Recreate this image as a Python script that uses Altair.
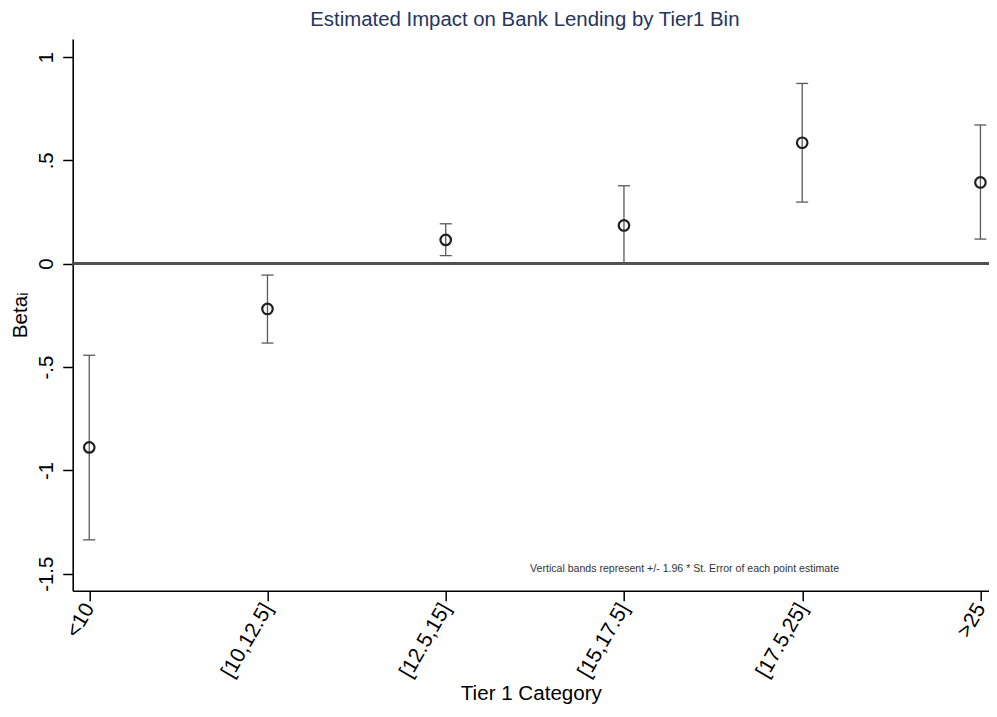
import altair as alt
import pandas as pd

categories = ["<10", "[10,12.5]", "[12.5,15]", "[15,17.5]", "[17.5,25]", ">25"]
beta = [-0.889, -0.219, 0.115, 0.185, 0.585, 0.393]
lower = [-1.336, -0.384, 0.039, -0.003, 0.298, 0.119]
upper = [-0.443, -0.055, 0.193, 0.377, 0.872, 0.671]
y_ticks = [-1.5, -1, -0.5, 0, 0.5, 1]
y_tick_labels = ["-1.5", "-1", "-.5", "0", ".5", "1"]
note_text = ["Vertical bands represent +/- 1.96 * St. Error of each point estimate"]
note_x = [3.34]
note_y = [-1.478]

FONT = "Liberation Sans"

df = pd.DataFrame({"idx": list(range(len(categories))), "cat": categories,
                   "beta": beta, "lo": lower, "hi": upper})
note_df = pd.DataFrame({"t": note_text, "x": note_x, "y": note_y})

cat_expr = "[" + ",".join("'" + c + "'" for c in categories) + "][datum.value]"
ylab_expr = ("[" + ",".join("'" + s + "'" for s in y_tick_labels) + "][indexof(["
             + ",".join(str(v) for v in y_ticks) + "], datum.value)]")

xscale = alt.Scale(domain=[-0.0928, 5.048], nice=False, zero=False)
yscale = alt.Scale(domain=[-1.582, 1.087], nice=False, zero=False)

xaxis = alt.Axis(values=list(range(len(categories))), labelExpr=cat_expr,
                 title="Tier 1 Category", labelAngle=300, labelAlign="right",
                 labelBaseline="middle", labelPadding=4, titlePadding=3,
                 labelFontSize=21)
yaxis = alt.Axis(values=y_ticks, labelExpr=ylab_expr, title="Betaᵢ",
                 labelAngle=270, labelAlign="center", labelBaseline="alphabetic",
                 labelPadding=10, titlePadding=6)

base = alt.Chart(df)

zero = alt.Chart(df).mark_rule(color="#505050", strokeWidth=2.2).encode(
    y=alt.datum(0, scale=yscale)
)

bars = base.mark_rule(color="#5a5a5a", strokeWidth=1.3).encode(
    x=alt.X("idx:Q", scale=xscale, axis=xaxis),
    y=alt.Y("lo:Q", scale=yscale, axis=yaxis),
    y2="hi:Q",
)
cap_lo = base.mark_rule(color="#5a5a5a", strokeWidth=1.3, xOffset=-6, x2Offset=6).encode(
    x="idx:Q", x2="idx:Q", y="lo:Q"
)
cap_hi = base.mark_rule(color="#5a5a5a", strokeWidth=1.3, xOffset=-6, x2Offset=6).encode(
    x="idx:Q", x2="idx:Q", y="hi:Q"
)
points = base.mark_point(shape="circle", filled=False, size=110, strokeWidth=2.2,
                         color="#1f1f1f", opacity=1).encode(
    x="idx:Q", y="beta:Q"
)
note = alt.Chart(note_df).mark_text(fontSize=10.6, font=FONT, color="#333333",
                                    align="center", baseline="middle").encode(
    x="x:Q", y="y:Q", text="t:N"
)

chart = (zero + bars + cap_lo + cap_hi + points + note).properties(
    width=916.3, height=551.7,
    autosize=alt.AutoSizeParams(type="none"),
    padding={"left": 64.7, "top": 31, "right": 0, "bottom": 118},
    title=alt.TitleParams("Estimated Impact on Bank Lending by Tier1 Bin",
                          font=FONT, fontSize=20.4, fontWeight="normal",
                          color="#25355e", anchor="middle", offset=9, dx=-6),
).configure_view(stroke=None).configure_axis(
    domainColor="black", domainWidth=1.6, tickColor="black", tickWidth=1.5,
    tickSize=10, grid=False, labelFont=FONT, titleFont=FONT, labelFontSize=20.4,
    titleFontSize=20.6, labelColor="black", titleColor="black", titleFontWeight="normal",
)

chart.save("out.html", embed_options={"renderer": "svg", "actions": False})
